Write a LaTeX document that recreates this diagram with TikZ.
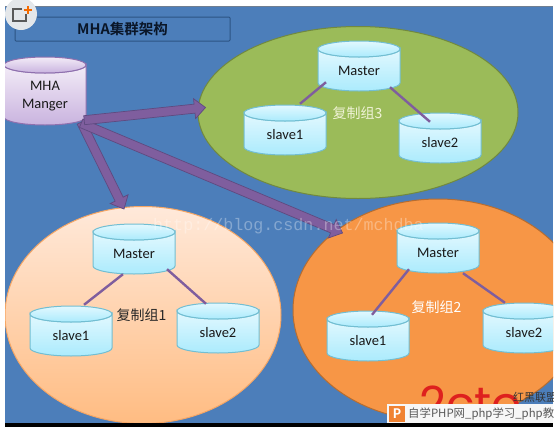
\documentclass[tikz,border=0pt]{standalone}
\usepackage{fontspec}
\usetikzlibrary{shapes.geometric,calc}
\setmainfont{Carlito}
\newfontfamily\cjk{Noto Sans CJK SC}
\newfontfamily\cjkb{Noto Sans CJK SC Bold}
\newfontfamily\wmfont{Liberation Mono}
\newfontfamily\logofont{Poppins}
\definecolor{bgblue}{HTML}{4C7EBA}
\definecolor{arrowp}{HTML}{7F5E9E}
\definecolor{arrowd}{HTML}{5F4A80}
\definecolor{cyltop}{HTML}{E2F8FE}
\definecolor{cylbot}{HTML}{ABEBFD}
\definecolor{cylline}{HTML}{72BED2}
\definecolor{mtop}{HTML}{F3ECF7}
\definecolor{mbot}{HTML}{C9B3DF}
\definecolor{mline}{HTML}{8F70AE}
\definecolor{gfill}{HTML}{9BBB59}
\definecolor{gline}{HTML}{71893F}
\definecolor{ptop}{HTML}{FFE9DA}
\definecolor{pbot}{HTML}{FFBC82}
\definecolor{pline}{HTML}{F6A664}
\definecolor{ofill}{HTML}{F79646}
\definecolor{oline}{HTML}{B66D31}
\definecolor{titleline}{HTML}{2C5484}
\definecolor{titletext}{HTML}{0A1628}
\definecolor{l3text}{HTML}{F0F3D7}
\definecolor{logored}{HTML}{DE201E}
\definecolor{piconc}{HTML}{F08232}
\definecolor{iconbg}{HTML}{E4E7EA}
\definecolor{iconplus}{HTML}{F56A00}
\tikzset{
  dbblue/.style={draw=cylline,line width=1pt,top color=cyltop,bottom color=cylbot},
  dbpurple/.style={draw=mline,line width=1pt,top color=mtop,bottom color=mbot},
  dblabel/.style={inner sep=0pt,font=\fontsize{14.5}{17.5}\selectfont,text=black!90,align=center},
  grp/.style={ellipse,inner sep=0pt,line width=1pt},
  grouplabel/.style={inner sep=0pt,font=\cjk\fontsize{14}{16}\selectfont},
  linkline/.style={draw=arrowp,line width=2.4pt},
  bigarrow/.style={fill=arrowp,draw=arrowd,line width=.7pt,line join=miter}
}
% name, left, top, height, look, text
\newcommand{\dbcyl}[6]{%
  \begin{scope}[shift={(#2,#3)}]
    \pgfmathsetmacro{\hh}{#4}
    \pgfmathsetmacro{\hb}{#4-8}
    \pgfmathsetmacro{\hc}{#4-3.6}
    \pgfmathsetmacro{\hm}{(#4+8)/2+1}
    \pgfmathsetmacro{\hn}{#4-8}
    \path[#5] (0,8) -- (0,\hb) .. controls (0,\hc) and (18.4,\hh) .. (41,\hh)
      .. controls (63.6,\hh) and (82,\hc) .. (82,\hb) -- (82,8)
      .. controls (82,12.4) and (63.6,16) .. (41,16)
      .. controls (18.4,16) and (0,12.4) .. (0,8) -- cycle;
    \path[#5] (41,8) ellipse [x radius=41pt,y radius=8pt];
    \node[dblabel,minimum width=82pt,minimum height=\hn pt] (#1) at (41,\hm) {#6};
  \end{scope}}
% start, tip
\newcommand{\fatarrow}[2]{%
  \coordinate (hb) at ($(#2)!11pt!(#1)$);
  \path[bigarrow]
    ($(#1)!4.5pt!90:(#2)$) -- ($(hb)!4.5pt!90:(#2)$) -- ($(hb)!10pt!90:(#2)$) -- (#2)
    -- ($(hb)!10pt!-90:(#2)$) -- ($(hb)!4.5pt!-90:(#2)$) -- ($(#1)!4.5pt!-90:(#2)$) -- cycle;}
\begin{document}
\begin{tikzpicture}[x=1pt,y=-1pt]
\useasboundingbox (0,0) rectangle (558,429);
\fill[white] (0,0) rectangle (558,429);
\begin{scope}
\clip (5,6) rectangle (553,423);
\fill[bgblue] (5,6) rectangle (553,423);
\draw[gray!70!bgblue,line width=1pt] (5,6) -- (553,6);
% groups
\node[grp,draw=gline,fill=gfill,minimum width=320pt,minimum height=172pt] (g3) at (358,112.5) {};
\node[grp,draw=pline,top color=ptop,bottom color=pbot,minimum width=276pt,minimum height=217pt] (g1) at (143,315) {};
\node[grp,draw=oline,fill=ofill,minimum width=290pt,minimum height=222pt] (g2) at (438,310) {};
% title
\node[draw=titleline,line width=1pt,rounded corners=1pt,minimum width=215pt,minimum height=24pt,inner sep=0pt,font=\cjkb\fontsize{14.5}{16}\selectfont,text=titletext] (title) at (122.5,29) {MHA集群架构};
% cylinders
\dbcyl{mha}{4}{57}{68}{dbpurple}{MHA\\Manger}
\dbcyl{m3}{318}{41}{50}{dbblue}{Master}
\dbcyl{a3}{244}{105}{50}{dbblue}{slave1}
\dbcyl{b3}{399}{113}{50}{dbblue}{slave2}
\dbcyl{m1}{93}{224}{50}{dbblue}{Master}
\dbcyl{a1}{30}{306}{50}{dbblue}{slave1}
\dbcyl{b1}{177}{303}{50}{dbblue}{slave2}
\dbcyl{m2}{397}{223}{50}{dbblue}{Master}
\dbcyl{a2}{327}{311}{50}{dbblue}{slave1}
\dbcyl{b2}{483}{303}{50}{dbblue}{slave2}
% links
\draw[linkline] ([shift={(-33,-10)}]m3.south) -- ([shift={(15,-10)}]a3.north);
\draw[linkline] ([shift={(31,-5)}]m3.south) -- ([shift={(-10,0)}]b3.north);
\draw[linkline] ([shift={(-11,-1)}]m1.south) -- ([shift={(13,-10)}]a1.north);
\draw[linkline] ([shift={(33,-6)}]m1.south) -- ([shift={(-12,-8)}]b1.north);
\draw[linkline] ([shift={(-29,-5)}]m2.south) -- ([shift={(4,-5)}]a2.north);
\draw[linkline] ([shift={(25,-1)}]m2.south) -- ([shift={(-19,-9)}]b2.north);
% group labels
\node[grouplabel,text=l3text] (l3) at (357.5,113) {复制组3};
\node[grouplabel,text=black!85] (l1) at (141.5,315) {复制组1};
\node[grouplabel,text=white] (l2) at (436.5,307) {复制组2};
% big arrows
\coordinate (s3) at ([shift={(-2,-6)}]mha.south east);
\coordinate (t3) at ([shift={(8,-5)}]g3.west);
\coordinate (s1) at ([shift={(-5,-4)}]mha.south east);
\coordinate (t1) at ([shift={(-19,3)}]g1.north);
\coordinate (s2) at ([shift={(-5,-3)}]mha.south east);
\coordinate (t2) at ([shift={(50,-77)}]g2.west);
\fatarrow{s1}{t1}
\fatarrow{s2}{t2}
\fatarrow{s3}{t3}
% watermark
\node[inner sep=0pt,anchor=west,font=\wmfont\fontsize{16.7}{18}\selectfont,text=white,opacity=.32] (wm) at (153,226) {http://blog.csdn.net/mchdba};
% logo
\node[inner sep=0pt,anchor=base west,font=\logofont\fontsize{47}{50}\selectfont,text=logored] (logo) at (419,420) {2cto};
\node[inner sep=0pt,anchor=west,font=\cjk\fontsize{11}{12}\selectfont,text=black!80] (union) at (513,397) {红黑联盟};
% banner
\fill[black!3] (387,404) rectangle (553,423);
\fill[piconc] (389,406) rectangle (405,422);
\node[inner sep=0pt,font=\bfseries\fontsize{15}{16}\selectfont,text=white] (pmark) at (397,414) {P};
\node[inner sep=0pt,anchor=west,font=\cjk\fontsize{11.4}{13}\selectfont,text=black!65] (bt) at (408,414) {自学PHP网\_php学习\_php教};
\end{scope}
\fill[black] (5,423) rectangle (553,427);
% corner icon
\fill[iconbg] (21,14) circle (16pt);
\draw[black!65,line width=2.6pt] (26,14) -- (26,21) -- (13,21) -- (13,9) -- (22,9);
\draw[iconplus,line width=2.4pt] (24,10) -- (32,10) (28,6) -- (28,14);
\end{tikzpicture}
\end{document}
